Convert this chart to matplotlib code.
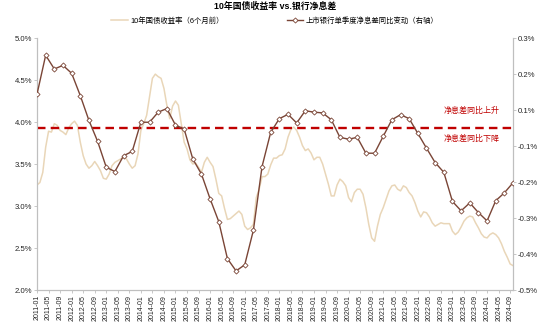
import numpy as np
import pandas as pd
import matplotlib
matplotlib.use('Agg')
from matplotlib import pyplot as plt
from matplotlib.ticker import FixedLocator, FixedFormatter

plt.rcParams['font.family'] = ['Liberation Sans', 'Noto Sans CJK SC']
plt.rcParams['axes.unicode_minus'] = False

# 10年国债收益率（6个月前），月度，2011-01 ~ 2024-10
yield_10y = [
    3.25, 3.28, 3.40, 3.70, 3.89, 3.88, 3.98, 3.96, 3.90, 3.88, 3.85, 3.93,
    3.98, 4.01, 3.96, 3.76, 3.60, 3.50, 3.45, 3.48, 3.53, 3.48, 3.42, 3.33,
    3.32, 3.38, 3.48, 3.52, 3.54, 3.56, 3.58, 3.56, 3.50, 3.45, 3.48, 3.62,
    3.90, 3.98, 4.08, 4.30, 4.52, 4.57, 4.54, 4.52, 4.40, 4.20, 4.04, 4.19,
    4.25, 4.20, 3.98, 3.76, 3.68, 3.55, 3.50, 3.51, 3.46, 3.40, 3.52, 3.58,
    3.52, 3.47, 3.32, 3.15, 3.12, 2.97, 2.84, 2.85, 2.88, 2.91, 2.94, 2.90,
    2.76, 2.72, 2.74, 2.78, 3.10, 3.20, 3.35, 3.35, 3.38, 3.49, 3.57, 3.57,
    3.60, 3.61, 3.68, 3.82, 3.91, 3.94, 3.90, 3.82, 3.72, 3.66, 3.68, 3.63,
    3.55, 3.58, 3.58, 3.50, 3.38, 3.26, 3.12, 3.12, 3.25, 3.32, 3.29, 3.24,
    3.10, 3.05, 3.16, 3.20, 3.20, 3.14, 2.98, 2.78, 2.62, 2.58, 2.76, 2.90,
    2.98, 3.08, 3.18, 3.24, 3.25, 3.20, 3.18, 3.24, 3.22, 3.16, 3.12, 3.04,
    2.94, 2.87, 2.93, 2.92, 2.87, 2.80, 2.76, 2.78, 2.80, 2.79, 2.79, 2.79,
    2.70, 2.66, 2.69, 2.75, 2.82, 2.86, 2.88, 2.87, 2.80, 2.74, 2.67, 2.63,
    2.62, 2.66, 2.68, 2.66, 2.62, 2.55, 2.46, 2.39, 2.31, 2.29,
]

# 上市银行单季度净息差同比变动（右轴），季度
nim_yoy = [
    0.094, 0.202, 0.164, 0.174, 0.152, 0.090, 0.021, -0.037, -0.109, -0.121,
    -0.077, -0.065, 0.016, 0.016, 0.044, 0.054, 0.008, -0.003, -0.086, -0.128,
    -0.197, -0.260, -0.363, -0.397, -0.380, -0.284, -0.107, -0.012, 0.026, 0.038,
    0.014, 0.048, 0.044, 0.042, 0.023, -0.026, -0.031, -0.026, -0.070, -0.070,
    -0.023, 0.023, 0.037, 0.026, -0.015, -0.056, -0.096, -0.123, -0.204, -0.230,
    -0.208, -0.235, -0.258, -0.202, -0.180, -0.152,
]

months = pd.date_range('2011-01', periods=len(yield_10y), freq='MS')
month_labels = [d.strftime('%Y-%m') for d in months]
x_month = np.arange(len(yield_10y))
x_quarter = x_month[::3]

left_ticks = [2.0, 2.5, 3.0, 3.5, 4.0, 4.5, 5.0]
right_ticks = [-0.45, -0.35, -0.25, -0.15, -0.05, 0.05, 0.15, 0.25]
right_labels = ['-0.5%', '-0.4%', '-0.3%', '-0.2%', '-0.1%', '0.1%', '0.2%', '0.3%']

tan = '#E9D6B8'
brown = '#7A4536'
red = '#C00000'
grey = '#BFBFBF'
txt = '#262626'

fig = plt.figure(figsize=(5.5, 3.32), dpi=100)
ax = fig.add_axes([0.0673, 0.1265, 0.8655, 0.759])
ax2 = ax.twinx()

l1, = ax.plot(x_month, yield_10y, color=tan, lw=1.1, label='10年国债收益率（6个月前）')
ax.set_ylim(2.0, 5.0)
ax.set_yticks(left_ticks)
ax.set_yticklabels([f'{v:.1f}%' for v in left_ticks])
ax.set_xlim(0, len(yield_10y) - 1)
ax.set_xticks(x_month[::4])
ax.set_xticklabels(month_labels[::4], rotation=90)

ax2.axhline(0, color=red, lw=1.7, ls=(0, (3.6, 2.2)), zorder=2)
l2, = ax2.plot(x_quarter, nim_yoy, color=brown, lw=1.0, marker='D', ms=2.6,
               mfc='white', mec=brown, mew=0.6, zorder=3,
               label='上市银行单季度净息差同比变动（右轴）')
ax2.set_ylim(-0.45, 0.25)
ax2.yaxis.set_major_locator(FixedLocator(right_ticks))
ax2.yaxis.set_major_formatter(FixedFormatter(right_labels))

for a in (ax, ax2):
    a.spines['top'].set_visible(False)
    for s in ('left', 'right', 'bottom'):
        a.spines[s].set_color(grey)
        a.spines[s].set_linewidth(0.8)
    a.tick_params(axis='both', colors=grey, labelcolor=txt, length=2, width=0.6, pad=1.5)
ax.tick_params(axis='y', labelsize=5.6)
ax.tick_params(axis='x', labelsize=5.0)
ax2.tick_params(axis='y', labelsize=5.6)

ax2.text(0.912, 0.71, '净息差同比上升', transform=ax2.transAxes, color=red,
         fontsize=5.8, ha='center', va='center')
ax2.text(0.912, 0.599, '净息差同比下降', transform=ax2.transAxes, color=red,
         fontsize=5.8, ha='center', va='center')

fig.suptitle('10年国债收益率 vs.银行净息差', x=0.5, y=0.995, fontsize=6.4,
             fontweight='bold', color='black', va='top')
fig.legend(handles=[l1, l2], loc='center', bbox_to_anchor=(0.5, 0.937), ncol=2,
           frameon=False, fontsize=5.3, columnspacing=8.5, handlelength=2.2,
           handletextpad=0.4)

fig.savefig('out.png', dpi=100)
